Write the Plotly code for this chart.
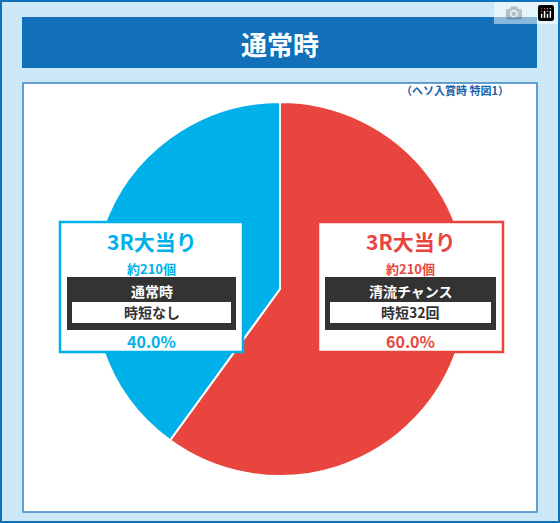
import plotly.graph_objects as go

labels = ["3R大当り 時短32回", "3R大当り 時短なし"]
values = [60.0, 40.0]
colors = ["#E8453E", "#00B0E8"]

W, H = 560, 523
def px(x): return x / W
def py(y): return 1 - y / H

fig = go.Figure(go.Pie(
    labels=labels, values=values, sort=False, direction="clockwise", rotation=0,
    marker=dict(colors=colors, line=dict(color="white", width=2)),
    textinfo="none", hoverinfo="label+percent", showlegend=False,
    domain=dict(x=[px(93), px(467)], y=[py(476), py(102)]),
))

shapes = []
ann = []
def rect(x0, y0, x1, y1, fill, line=None, lw=0, layer="below"):
    shapes.append(dict(type="rect", xref="paper", yref="paper", x0=px(x0), x1=px(x1),
                       y0=py(y1), y1=py(y0), fillcolor=fill,
                       line=dict(color=line or fill, width=lw), layer=layer))
def text(x, y, t, size, color, font="Noto Sans CJK JP"):
    ann.append(dict(xref="paper", yref="paper", x=px(x), y=py(y), text=t, showarrow=False,
                    font=dict(size=size, color=color, family=font), xanchor="center", yanchor="middle"))

# background
rect(1, 1, 559, 522, "#CDE8F6", "#1070B8", 2)
rect(22, 17, 537, 68, "#1170B8")
text(280, 43, "<b>通常時</b>", 26, "white")
rect(23, 83, 537, 512, "white", "#3A82C4", 1.5)
text(455, 90, "<b>（ヘソ入賞時 特図1）</b>", 11, "#1A5FA8")

def box(x0, x1, color, mode, jitan, pct):
    cx = (x0 + x1) / 2
    rect(x0, 222, x1, 352, "white", color, 2.5, "above")
    text(cx, 241, "<b>3R大当り</b>", 21, color)
    text(cx, 268, "<b>約210個</b>", 13, color)
    rect(x0 + 7, 277, x1 - 7, 330, "#333333", layer="above")
    text(cx, 291, "<b>" + mode + "</b>", 14, "white")
    rect(x0 + 12, 302, x1 - 12, 323, "white", layer="above")
    text(cx, 312, "<b>" + jitan + "</b>", 14, "#333333")
    text(cx, 341, "<b>" + pct + "</b>", 16, color)

box(60, 243, colors[1], "通常時", "時短なし", f"{values[1]:.1f}%")
box(318, 503, colors[0], "清流チャンス", "時短32回", f"{values[0]:.1f}%")

fig.update_layout(width=W, height=H, margin=dict(l=0, r=0, t=0, b=0),
                  paper_bgcolor="white", shapes=shapes, annotations=ann)
fig.write_html("out.html", post_script="document.body.style.margin='0';document.body.style.overflow='hidden';")
